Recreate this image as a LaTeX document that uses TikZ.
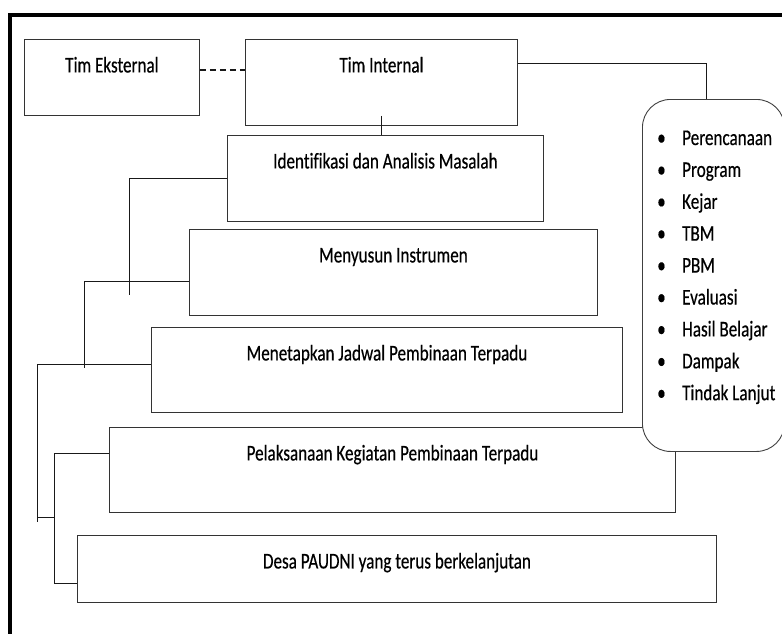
\documentclass[tikz,border=0pt]{standalone}
\usepackage{fontspec}
\setmainfont[FakeStretch=0.76, FakeBold=0.4, Ligatures=NoCommon]{Carlito}
\usetikzlibrary{calc}

\tikzset{
    box/.style={draw=black!80, line width=0.9pt, inner xsep=0pt, inner ysep=0pt,
        text height=33pt, anchor=north west, font=\fontsize{22.5}{26}\selectfont},
    aspectbox/.style={draw=black!75, line width=0.9pt, fill=white, rounded corners=28pt,
        anchor=north west, inner sep=0pt},
    item/.style={anchor=base west, inner sep=0pt, font=\fontsize{22.5}{26}\selectfont},
    link/.style={black!90, line width=0.8pt}
}

\begin{document}
\begin{tikzpicture}[x=1pt, y=-1pt]
    \useasboundingbox (0,0) rectangle (782,634);

    % Outer frame (cut off on the right and at the bottom)
    \draw [line width=3.5pt] (10,15) rectangle (800,660);

    % Teams
    \node [box, minimum width=175, text depth=43pt] (ext) at (24,39) {Tim Eksternal};
    \node [box, minimum width=272, text depth=53pt] (int) at (245,39) {Tim Internal};
    \draw [link, line width=1.6pt, dash pattern=on 6pt off 4pt] ([yshift=-31pt]ext.north east) -- ([yshift=-31pt]int.north west);

    % Steps
    \node [box, minimum width=316, text depth=53pt] (ident) at (227,135) {Identifikasi dan Analisis Masalah};
    \node [box, minimum width=408, text depth=53pt] (susun) at (189,229) {Menyusun Instrumen};
    \node [box, minimum width=471, text depth=52pt] (jadwal) at (151,327) {Menetapkan Jadwal Pembinaan Terpadu};
    \node [box, minimum width=566, text depth=52pt] (laksana) at (109,427) {Pelaksanaan Kegiatan Pembinaan Terpadu};
    \node [box, minimum width=639, text depth=34pt] (desa) at (77,535) {Desa PAUDNI yang terus berkelanjutan};

    % Aspects of the coaching
    \node [aspectbox, minimum width=142, minimum height=352] (aspek) at (642,99) {};
    \foreach \lbl [count=\i, evaluate=\i as \dy using 46+(\i-1)*31.9] in {Perencanaan, Program, Kejar, TBM, PBM, Evaluasi, Hasil Belajar, Dampak, Tindak Lanjut}
    {
        \node [item] (asp\i) at ($(aspek.north west)+(15,\dy)$) {\makebox[25pt][l]{\textbullet}\lbl};
    }
    \draw [link] ([yshift=-24pt]int.north east) -| ([xshift=-7pt]aspek.north);

    % Connecting the steps
    \coordinate (e1) at (129,295);
    \coordinate (e2) at (84,368);
    \coordinate (e3) at (37,522);
    \coordinate (e4) at (54,583);
    \coordinate (j) at (37,517);
    \draw [link] ([yshift=10pt]int.south) -- (int.south |- ident.north);
    \draw [link] (ident.west) -| (e1);
    \draw [link] ([yshift=-52pt]susun.north west) -| (e2);
    \draw [link] ([yshift=-37pt]jadwal.north west) -| (e3);
    \draw [link] ([yshift=-26pt]laksana.north west) -| (e4) -- ([yshift=-48pt]desa.north west);
    \draw [link] (j) -- (j -| e4);
\end{tikzpicture}
\end{document}
